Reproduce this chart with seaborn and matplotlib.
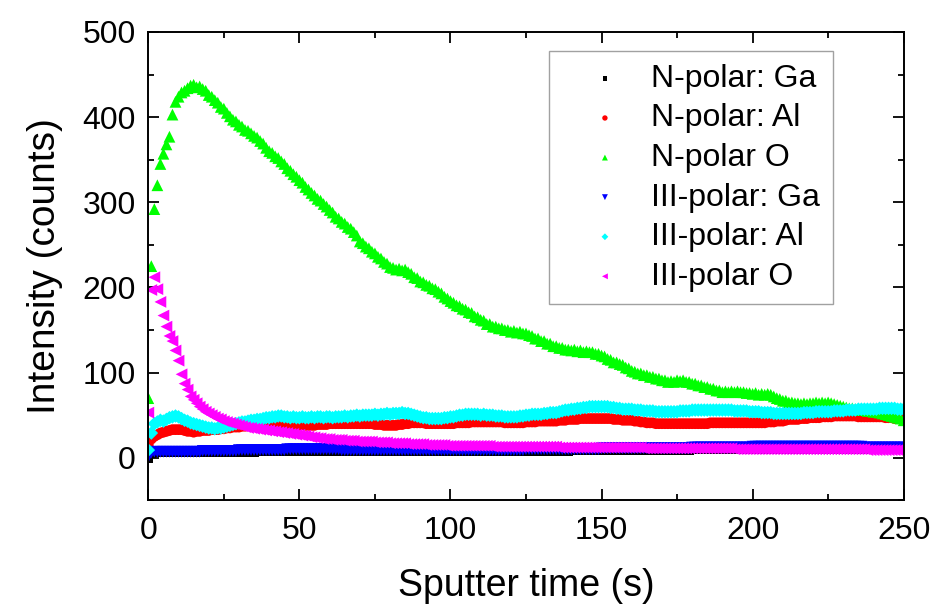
import numpy as np
import pandas as pd
import matplotlib
matplotlib.use("Agg")
import matplotlib.pyplot as plt
import seaborn as sns
from matplotlib.ticker import MultipleLocator

# ---------------- data ----------------
time_s = list(range(0, 251))

n_o = [70, 225, 292, 320, 345, 357, 368, 377, 403, 418,
       424, 429, 431, 434, 437, 438, 435, 436, 433, 431,
       426, 424, 420, 417, 412, 410, 405, 401, 397, 395,
       391, 389, 385, 384, 381, 378, 376, 372, 369, 364,
       360, 358, 354, 352, 348, 345, 340, 337, 333, 330,
       326, 323, 318, 315, 311, 308, 304, 302, 298, 295,
       291, 288, 283, 281, 277, 275, 271, 269, 265, 261,
       254, 252, 248, 246, 242, 240, 236, 234, 230, 228,
       224, 223, 221, 222, 220, 221, 218, 216, 212, 211,
       207, 206, 203, 202, 199, 198, 195, 193, 189, 187,
       184, 182, 179, 178, 175, 174, 171, 170, 166, 165,
       162, 161, 157, 157, 154, 154, 152, 152, 150, 150,
       148, 149, 147, 148, 146, 146, 144, 143, 140, 140,
       137, 137, 134, 134, 131, 131, 129, 129, 127, 127,
       126, 127, 125, 126, 124, 125, 124, 124, 122, 122,
       120, 119, 116, 115, 112, 112, 110, 109, 106, 105,
       102, 101, 99, 99, 97, 97, 95, 95, 93, 93,
       91, 91, 89, 90, 89, 91, 90, 91, 89, 89,
       87, 87, 85, 85, 83, 83, 81, 81, 79, 79,
       77, 78, 77, 78, 77, 78, 77, 77, 76, 76,
       75, 76, 74, 75, 74, 75, 74, 72, 70, 69,
       67, 67, 65, 65, 64, 64, 63, 64, 63, 64,
       64, 65, 64, 65, 64, 65, 64, 63, 62, 61,
       60, 59, 58, 58, 57, 57, 56, 56, 55, 55,
       54, 54, 53, 52, 51, 50, 49, 48, 47, 46,
       44]

iii_al = [9, 29, 40, 42, 44, 43, 45, 47, 48, 49,
          48, 46, 44, 43, 41, 40, 39, 38, 37, 36,
          35, 35, 34, 35, 35, 36, 37, 38, 39, 40,
          41, 42, 42, 43, 44, 44, 45, 45, 46, 47,
          47, 48, 48, 49, 49, 48, 48, 47, 48, 47,
          47, 48, 47, 47, 48, 47, 48, 48, 47, 48,
          48, 47, 48, 48, 48, 49, 48, 49, 49, 50,
          49, 50, 50, 50, 50, 51, 50, 51, 51, 52,
          51, 52, 52, 52, 53, 52, 52, 51, 50, 49,
          48, 47, 47, 46, 46, 46, 46, 46, 47, 47,
          48, 48, 49, 50, 50, 51, 51, 51, 51, 51,
          50, 51, 50, 50, 50, 49, 49, 49, 48, 48,
          48, 48, 48, 49, 49, 50, 50, 51, 51, 51,
          51, 52, 52, 53, 53, 53, 54, 55, 56, 56,
          57, 57, 58, 58, 59, 59, 60, 60, 60, 60,
          60, 60, 60, 59, 59, 58, 58, 57, 57, 57,
          57, 56, 56, 56, 55, 55, 55, 55, 54, 54,
          54, 54, 54, 54, 54, 54, 55, 55, 55, 55,
          56, 56, 56, 56, 56, 56, 56, 56, 56, 56,
          56, 56, 56, 56, 55, 55, 55, 55, 55, 54,
          54, 54, 54, 53, 53, 53, 53, 52, 52, 52,
          52, 52, 52, 52, 52, 52, 52, 53, 53, 53,
          53, 54, 54, 54, 54, 54, 54, 55, 55, 55,
          55, 56, 56, 56, 56, 57, 57, 57, 57, 57,
          57, 57, 58, 58, 58, 58, 58, 58, 57, 57,
          57]

n_al = [15, 22, 25, 27, 29, 30, 31, 32, 33, 33,
        33, 33, 32, 31, 31, 30, 31, 31, 32, 32,
        32, 33, 33, 33, 34, 34, 35, 35, 36, 36,
        36, 37, 37, 38, 38, 39, 39, 40, 40, 40,
        40, 40, 40, 40, 40, 39, 39, 39, 39, 39,
        38, 39, 38, 38, 38, 38, 39, 39, 39, 39,
        40, 40, 40, 40, 40, 40, 40, 40, 40, 40,
        40, 40, 40, 40, 40, 39, 39, 39, 38, 38,
        38, 38, 38, 39, 39, 40, 40, 41, 41, 41,
        41, 41, 40, 40, 40, 40, 40, 40, 40, 40,
        40, 40, 41, 41, 41, 41, 41, 42, 42, 42,
        42, 42, 42, 42, 42, 42, 42, 42, 41, 41,
        41, 41, 41, 41, 41, 42, 42, 42, 42, 43,
        43, 43, 43, 43, 43, 43, 44, 44, 44, 45,
        45, 45, 45, 46, 46, 46, 46, 46, 46, 46,
        46, 46, 46, 46, 45, 45, 45, 44, 44, 44,
        44, 43, 43, 42, 42, 41, 41, 41, 40, 40,
        40, 40, 40, 40, 40, 40, 40, 40, 40, 40,
        40, 40, 40, 40, 40, 40, 41, 41, 41, 41,
        41, 41, 41, 41, 41, 41, 41, 41, 41, 41,
        41, 41, 41, 41, 41, 42, 42, 42, 43, 43,
        43, 44, 45, 45, 45, 45, 46, 46, 46, 47,
        47, 47, 47, 48, 48, 48, 48, 49, 49, 49,
        49, 49, 49, 49, 49, 48, 48, 48, 48, 48,
        48, 48, 48, 48, 47, 47, 47, 46, 46, 46,
        45]

iii_o = [53, 197, 212, 198, 183, 167, 154, 143, 137, 126,
         114, 98, 87, 80, 72, 68, 64, 60, 57, 54,
         52, 50, 48, 46, 45, 43, 42, 41, 40, 39,
         38, 37, 36, 35, 35, 34, 34, 33, 33, 32,
         32, 31, 31, 30, 30, 29, 29, 28, 28, 27,
         27, 26, 26, 25, 24, 24, 23, 23, 22, 22,
         22, 21, 21, 21, 21, 20, 20, 20, 20, 19,
         19, 19, 19, 19, 19, 18, 18, 18, 18, 18,
         17, 17, 17, 17, 17, 17, 16, 16, 16, 16,
         16, 16, 15, 15, 15, 15, 15, 15, 15, 14,
         14, 14, 14, 14, 14, 14, 14, 14, 14, 14,
         14, 14, 14, 14, 13, 13, 13, 13, 13, 13,
         13, 13, 13, 13, 13, 13, 13, 13, 13, 13,
         13, 13, 13, 13, 13, 13, 12, 12, 12, 12,
         12, 12, 12, 12, 12, 12, 12, 12, 12, 12,
         12, 12, 12, 12, 12, 12, 12, 12, 12, 12,
         12, 12, 12, 12, 11, 11, 11, 11, 11, 11,
         11, 11, 11, 11, 11, 11, 11, 11, 11, 11,
         11, 11, 11, 11, 11, 11, 11, 11, 11, 11,
         11, 11, 11, 11, 10, 10, 10, 10, 10, 10,
         10, 10, 10, 10, 10, 10, 10, 10, 10, 10,
         10, 10, 10, 10, 10, 10, 10, 10, 10, 10,
         10, 10, 10, 10, 10, 10, 10, 10, 10, 10,
         10, 10, 10, 10, 10, 10, 10, 10, 9, 9,
         9, 9, 9, 9, 9, 9, 9, 9, 9, 9,
         9]

iii_ga = [1, 6, 7, 7, 7, 7, 7, 7, 7, 7,
          7, 7, 7, 7, 7, 7, 7, 7, 8, 8,
          8, 8, 8, 8, 8, 8, 8, 8, 8, 8,
          9, 9, 9, 9, 9, 9, 9, 9, 9, 9,
          9, 9, 9, 9, 9, 9, 10, 10, 10, 10,
          10, 10, 10, 10, 10, 10, 10, 10, 10, 10,
          10, 10, 10, 10, 9, 9, 9, 9, 9, 9,
          9, 9, 9, 9, 9, 9, 9, 9, 9, 9,
          9, 9, 9, 9, 9, 9, 9, 9, 9, 9,
          9, 9, 9, 9, 9, 9, 9, 9, 9, 9,
          9, 9, 9, 9, 9, 9, 9, 9, 9, 9,
          9, 9, 9, 9, 9, 9, 9, 9, 9, 9,
          9, 9, 9, 9, 9, 10, 10, 10, 10, 10,
          10, 10, 10, 10, 10, 10, 10, 10, 10, 10,
          10, 10, 10, 10, 10, 10, 10, 10, 10, 10,
          11, 11, 11, 11, 11, 11, 11, 11, 11, 11,
          11, 11, 11, 11, 11, 11, 11, 11, 11, 11,
          11, 11, 11, 11, 11, 11, 11, 11, 11, 11,
          12, 12, 12, 12, 12, 12, 12, 12, 12, 12,
          12, 12, 12, 12, 12, 12, 12, 12, 12, 12,
          13, 13, 13, 13, 13, 13, 13, 13, 13, 13,
          13, 13, 13, 13, 13, 13, 13, 13, 13, 13,
          13, 13, 13, 13, 13, 13, 13, 13, 13, 13,
          13, 13, 13, 13, 13, 13, 13, 12, 12, 12,
          12, 12, 12, 12, 12, 12, 12, 12, 12, 12,
          12]

n_ga = [0, 5, 6, 6, 6, 6, 6, 6, 6, 6,
        6, 6, 6, 6, 6, 6, 6, 6, 7, 7,
        7, 7, 7, 7, 7, 7, 7, 7, 7, 7,
        7, 7, 7, 7, 7, 7, 8, 8, 8, 8,
        8, 8, 8, 8, 8, 8, 8, 8, 8, 8,
        8, 8, 8, 8, 8, 8, 8, 8, 8, 8,
        8, 8, 8, 8, 8, 8, 8, 8, 8, 8,
        8, 8, 8, 8, 8, 8, 8, 8, 8, 8,
        8, 8, 8, 8, 8, 8, 8, 8, 8, 8,
        8, 8, 8, 8, 8, 8, 8, 8, 8, 8,
        8, 8, 8, 8, 8, 8, 8, 8, 8, 8,
        8, 8, 8, 8, 8, 8, 8, 8, 8, 8,
        8, 8, 8, 8, 8, 8, 8, 8, 8, 8,
        8, 8, 8, 8, 8, 8, 8, 8, 8, 8,
        9, 9, 9, 9, 9, 9, 9, 9, 9, 9,
        9, 9, 9, 9, 9, 9, 9, 9, 9, 9,
        9, 9, 9, 9, 9, 9, 9, 9, 9, 9,
        9, 9, 9, 9, 9, 9, 9, 9, 9, 9,
        10, 10, 10, 10, 10, 10, 10, 10, 10, 10,
        10, 10, 10, 10, 10, 10, 10, 10, 10, 10,
        10, 10, 10, 10, 10, 10, 10, 10, 10, 10,
        10, 10, 10, 10, 10, 10, 10, 10, 10, 10,
        10, 10, 10, 10, 10, 10, 10, 10, 10, 10,
        10, 10, 10, 10, 10, 10, 10, 10, 10, 10,
        10, 10, 10, 10, 10, 10, 10, 10, 10, 10,
        10]

series_labels = ["N-polar: Ga", "N-polar: Al", "N-polar O",
                 "III-polar: Ga", "III-polar: Al", "III-polar O"]
series_values = [n_ga, n_al, n_o, iii_ga, iii_al, iii_o]
series_colors = ["#000000", "#FF0000", "#00FF00", "#0000FF", "#00FFFF", "#FF00FF"]
series_markers = ["s", "o", "^", "v", "D", "<"]
series_sizes = [48, 60, 72, 72, 48, 72]

x_ticks = [0, 50, 100, 150, 200, 250]
y_ticks = [0, 100, 200, 300, 400, 500]

# ---------------- style ----------------
sns.set_style("ticks")
plt.rcParams["font.family"] = ["Liberation Sans", "DejaVu Sans"]
plt.rcParams.update({"text.color": "black", "axes.labelcolor": "black",
                     "xtick.color": "black", "ytick.color": "black"})

fig = plt.figure(figsize=(9.38, 6.06), dpi=100)
ax = fig.add_axes([0.1581, 0.1744, 0.8053, 0.7728])

for lab, vals, col, mk, sz in zip(series_labels, series_values, series_colors,
                                  series_markers, series_sizes):
    df = pd.DataFrame({"t": time_s, "v": vals})
    sns.scatterplot(data=df, x="t", y="v", ax=ax, marker=mk, color=col,
                    s=sz, linewidth=0, edgecolor="none", label=lab)

ax.set_xlim(0, 250)
ax.set_ylim(-50, 500)
ax.set_xticks(x_ticks)
ax.set_yticks(y_ticks)
ax.xaxis.set_minor_locator(MultipleLocator(25))
ax.yaxis.set_minor_locator(MultipleLocator(50))
ax.tick_params(which="both", direction="in", top=True, right=True,
               colors="black", labelcolor="black", width=1.3)
ax.tick_params(which="major", length=8, labelsize=23)
ax.tick_params(axis="y", which="major", pad=9)
ax.tick_params(axis="x", which="major", pad=11)
ax.tick_params(which="minor", length=4)
for sp in ax.spines.values():
    sp.set_visible(True)
    sp.set_linewidth(1.4)
    sp.set_color("black")

ax.set_xlabel("Sputter time (s)", fontsize=27, labelpad=16, color="black")
ax.set_ylabel("Intensity (counts)", fontsize=28, labelpad=14, color="black")

leg = ax.legend(loc="upper left", bbox_to_anchor=(0.5305, 0.9594),
                borderaxespad=0, fontsize=23, markerscale=0.5,
                handlelength=2.7, handletextpad=0.1, labelspacing=0.3,
                borderpad=0.4, frameon=True, fancybox=False,
                scatterpoints=1)
leg.get_frame().set_edgecolor("#8a8a8a")
leg.get_frame().set_linewidth(1.0)
for txt in leg.get_texts():
    txt.set_color("black")

fig.savefig("out.png", dpi=100)
